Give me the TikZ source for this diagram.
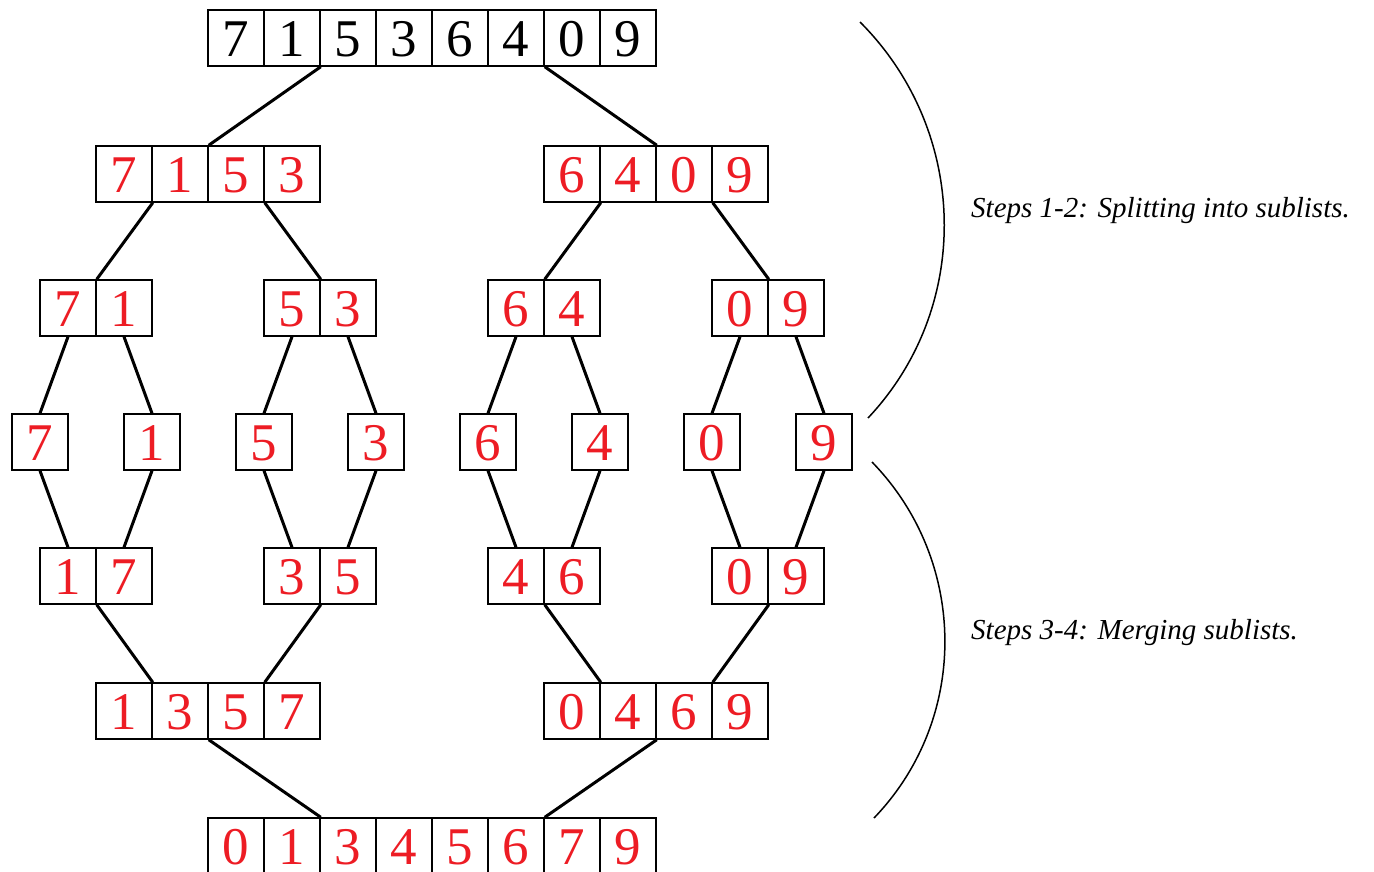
\documentclass[tikz,border=0pt]{standalone}
\usepackage{fontspec}
\setmainfont{Liberation Serif}
\definecolor{dred}{RGB}{237,28,36}
\tikzset{
  cell/.style={draw, line width=1.5pt, minimum width=56pt, minimum height=56pt,
    inner sep=0pt, text height=36pt, text depth=0pt, font=\fontsize{53}{53}\selectfont},
  redcell/.style={cell, text=dred},
  conn/.style={line width=3pt},
  brace/.style={line width=1.5pt},
  note/.style={font=\fontsize{29}{35}\selectfont\itshape, anchor=base west, inner sep=0pt}
}
\newcommand\cellrow[5]{%
  \foreach \dd [count=\ii] in {#5} {\node[#2] (#1-\ii) at ({#3+56*(\ii-0.5)},#4) {\dd};}}
\begin{document}
\begin{tikzpicture}[x=1pt,y=-1pt]
\useasboundingbox (0,0) rectangle (1374,871);
% row 1
\cellrow{A}{cell}{208}{38}{7,1,5,3,6,4,0,9}
% row 2
\cellrow{B}{redcell}{96}{174}{7,1,5,3}
\cellrow{C}{redcell}{544}{174}{6,4,0,9}
% row 3
\cellrow{D}{redcell}{40}{308}{7,1}
\cellrow{E}{redcell}{264}{308}{5,3}
\cellrow{F}{redcell}{488}{308}{6,4}
\cellrow{G}{redcell}{712}{308}{0,9}
% row 4
\cellrow{S1}{redcell}{12}{442}{7}
\cellrow{S2}{redcell}{124}{442}{1}
\cellrow{S3}{redcell}{236}{442}{5}
\cellrow{S4}{redcell}{348}{442}{3}
\cellrow{S5}{redcell}{460}{442}{6}
\cellrow{S6}{redcell}{572}{442}{4}
\cellrow{S7}{redcell}{684}{442}{0}
\cellrow{S8}{redcell}{796}{442}{9}
% row 5
\cellrow{P}{redcell}{40}{576}{1,7}
\cellrow{Q}{redcell}{264}{576}{3,5}
\cellrow{R}{redcell}{488}{576}{4,6}
\cellrow{T}{redcell}{712}{576}{0,9}
% row 6
\cellrow{U}{redcell}{96}{711}{1,3,5,7}
\cellrow{V}{redcell}{544}{711}{0,4,6,9}
% row 7
\cellrow{W}{redcell}{208}{846}{0,1,3,4,5,6,7,9}
% connectors: splitting
\draw[conn] (A-2.south east) -- (B-2.north east);
\draw[conn] (A-6.south east) -- (C-2.north east);
\draw[conn] (B-1.south east) -- (D-1.north east);
\draw[conn] (B-3.south east) -- (E-1.north east);
\draw[conn] (C-1.south east) -- (F-1.north east);
\draw[conn] (C-3.south east) -- (G-1.north east);
\draw[conn] (D-1.south) -- (S1-1.north);
\draw[conn] (D-2.south) -- (S2-1.north);
\draw[conn] (E-1.south) -- (S3-1.north);
\draw[conn] (E-2.south) -- (S4-1.north);
\draw[conn] (F-1.south) -- (S5-1.north);
\draw[conn] (F-2.south) -- (S6-1.north);
\draw[conn] (G-1.south) -- (S7-1.north);
\draw[conn] (G-2.south) -- (S8-1.north);
% connectors: merging
\draw[conn] (S1-1.south) -- (P-1.north);
\draw[conn] (S2-1.south) -- (P-2.north);
\draw[conn] (S3-1.south) -- (Q-1.north);
\draw[conn] (S4-1.south) -- (Q-2.north);
\draw[conn] (S5-1.south) -- (R-1.north);
\draw[conn] (S6-1.south) -- (R-2.north);
\draw[conn] (S7-1.south) -- (T-1.north);
\draw[conn] (S8-1.south) -- (T-2.north);
\draw[conn] (P-1.south east) -- (U-1.north east);
\draw[conn] (Q-1.south east) -- (U-3.north east);
\draw[conn] (R-1.south east) -- (V-1.north east);
\draw[conn] (T-1.south east) -- (V-3.north east);
\draw[conn] (U-2.south east) -- (W-2.north east);
\draw[conn] (V-2.south east) -- (W-6.north east);
% braces
\coordinate (b1s) at (860,22);
\coordinate (b1e) at (868,418);
\coordinate (b2s) at (872,462);
\coordinate (b2e) at (874,818);
\draw[brace] (b1s) .. controls (968.5,130.5) and (973.3,306.3) .. (b1e);
\draw[brace] (b2s) .. controls (968.1,560.9) and (969.6,718.6) .. (b2e);
\node[note] (n1) at (971,217) {Steps 1-2: Splitting into sublists.};
\node[note] (n2) at (971,639) {Steps 3-4: Merging sublists.};
\end{tikzpicture}
\end{document}
